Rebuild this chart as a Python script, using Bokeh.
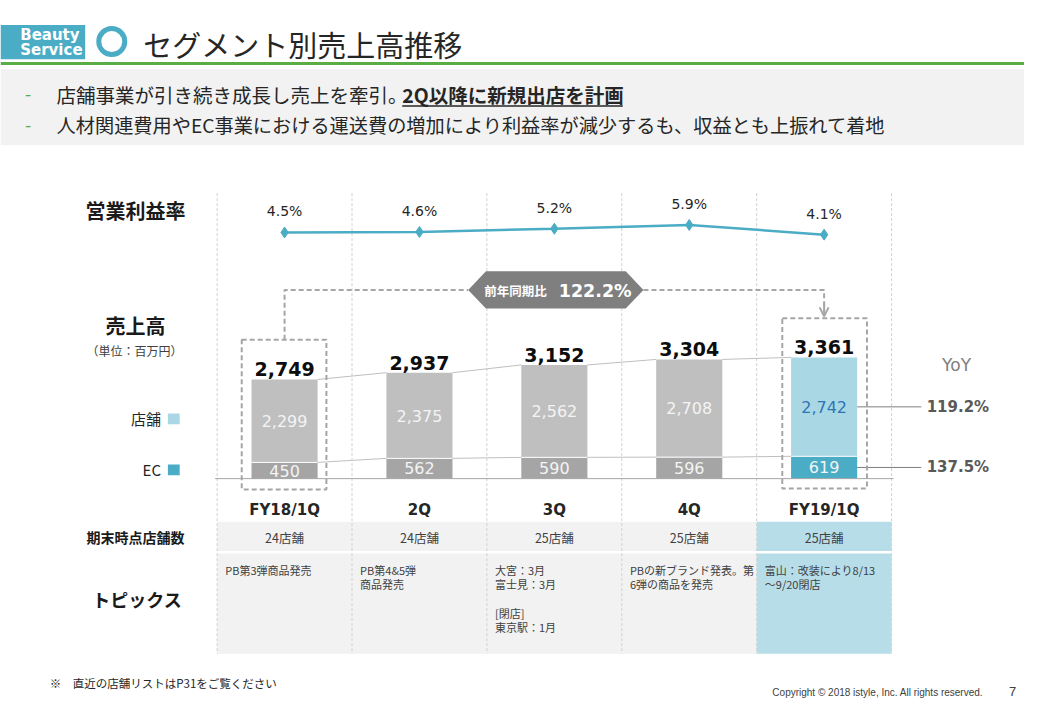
from bokeh.plotting import figure
from bokeh.models import Range1d, Arrow, OpenHead
from bokeh.core.properties import value
from bokeh.embed import file_html
from bokeh.resources import INLINE

# ---------------- data ----------------
quarters = ["FY18/1Q", "2Q", "3Q", "4Q", "FY19/1Q"]
store_sales = [2299, 2375, 2562, 2708, 2742]
ec_sales = [450, 562, 590, 596, 619]
total_sales = [2749, 2937, 3152, 3304, 3361]
op_margin = [4.5, 4.6, 5.2, 5.9, 4.1]
store_counts = ["24店舗", "24店舗", "25店舗", "25店舗", "25店舗"]
topics = [
    "PB第3弾商品発売",
    "PB第4&5弾\n商品発売",
    "大宮：3月\n富士見：3月\n\n[閉店]\n東京駅：1月",
    "PBの新ブランド発表。第\n6弾の商品を発売",
    "富山：改装により8/13\n～9/20閉店",
]
yoy_store = "119.2%"
yoy_ec = "137.5%"
yoy_total = "122.2%"

JP = value("Noto Sans CJK JP")
NUM = value("DejaVu Sans")

n = len(quarters)
idx = list(range(n))

p = figure(width=1024, height=704, x_range=Range1d(0, 1040), y_range=Range1d(720, 0),
           output_backend="svg", toolbar_location=None, min_border=0,
           x_axis_location=None, y_axis_location=None)
p.grid.visible = False
p.outline_line_color = None
p.background_fill_color = "white"
p.border_fill_color = "white"

# ---------------- header ----------------
p.quad(left=0, right=86, top=25, bottom=60, fill_color="#4bacc6", line_color=None)
p.text(x=[20, 20], y=[35, 51], text=["Beauty", "Service"], text_font=NUM, text_font_size="15px",
       text_font_style="bold", text_color="white", text_baseline="middle", text_align="left")
p.scatter(x=[113], y=[42], marker="circle", size=26, fill_color="white", line_color="#4bacc6", line_width=5)
p.text(x=[145], y=[44], text=["セグメント別売上高推移"], text_font=JP, text_font_size="29px",
       text_color="#262626", text_baseline="middle", text_align="left")
p.quad(left=0, right=1040, top=63, bottom=66, fill_color="#5aac44", line_color=None)
p.quad(left=0, right=1040, top=70, bottom=148, fill_color="#f2f2f2", line_color=None)
p.text(x=[25, 25], y=[96, 127], text=["-", "-"], text_font=JP, text_font_size="18px",
       text_color="#5aac44", text_baseline="middle", text_align="left")
p.text(x=[57], y=[96], text=["店舗事業が引き続き成長し売上を牽引。"], text_font=JP, text_font_size="19.5px",
       text_color="#262626", text_baseline="middle", text_align="left")
p.text(x=[408], y=[96], text=["2Q以降に新規出店を計画"], text_font=JP, text_font_size="19.5px",
       text_font_style="bold", text_color="#262626", text_baseline="middle", text_align="left")
p.segment(x0=[408], y0=[108], x1=[632], y1=[108], line_color="#262626", line_width=1.5)
p.text(x=[57], y=[127], text=["人材関連費用やEC事業における運送費の増加により利益率が減少するも、収益とも上振れて着地"],
       text_font=JP, text_font_size="19.2px", text_color="#262626", text_baseline="middle", text_align="left")

# ---------------- coordinate systems ----------------
cols = p.subplot(x_source=Range1d(-0.5, n - 0.5), y_source=Range1d(720, 0),
                 x_target=Range1d(220, 905), y_target=Range1d(720, 0))
bars = p.subplot(x_source=Range1d(-0.5, n - 0.5), y_source=Range1d(0, 3361),
                 x_target=Range1d(220, 905), y_target=Range1d(489, 365))
marg = p.subplot(x_source=Range1d(-0.5, n - 0.5), y_source=Range1d(0, 10),
                 x_target=Range1d(220, 905), y_target=Range1d(262, 207))

# ---------------- table backgrounds ----------------
bg = ["#f2f2f2"] * (n - 1) + ["#b7dde8"]
cols.quad(left=[i - 0.5 for i in idx], right=[i + 0.5 for i in idx], top=533, bottom=563,
          fill_color=bg, line_color=None)
cols.quad(left=[i - 0.5 for i in idx], right=[i + 0.5 for i in idx], top=565.5, bottom=668,
          fill_color=bg, line_color=None)

# vertical dashed column separators
sep = [i - 0.5 for i in range(n + 1)]
cols.segment(x0=sep, y0=197, x1=sep, y1=668, line_color="#d0d0d0", line_width=1, line_dash="3 2")

# table texts
cols.text(x=idx, y=521, text=quarters, text_font=NUM, text_font_size="15px", text_font_style="bold",
          text_color="#262626", text_align="center", text_baseline="middle")
cols.text(x=idx, y=549, text=store_counts, text_font=JP, text_font_size="12.5px",
          text_color="#404040", text_align="center", text_baseline="middle")
cols.text(x=[i - 0.44 for i in idx], y=574, text=topics, text_font=JP, text_font_size="11px",
          text_color="#404040", text_align="left", text_baseline="top", text_line_height=0.9)

# ---------------- left labels ----------------
p.text(x=[137], y=[215], text=["営業利益率"], text_font=JP, text_font_size="20px", text_font_style="bold",
       text_color="#1a1a1a", text_align="center", text_baseline="middle")
p.text(x=[137], y=[332], text=["売上高"], text_font=JP, text_font_size="20px", text_font_style="bold",
       text_color="#1a1a1a", text_align="center", text_baseline="middle")
p.text(x=[136], y=[358], text=["（単位：百万円）"], text_font=JP, text_font_size="12px",
       text_color="#404040", text_align="center", text_baseline="middle")
p.text(x=[163, 163], y=[428, 480], text=["店舗", "EC"], text_font=JP, text_font_size="15px",
       text_color="#262626", text_align="right", text_baseline="middle")
p.rect(x=[176, 176], y=[428, 480], width=12, height=11, fill_color=["#a9d8e4", "#4bacc6"], line_color=None)
p.text(x=[137], y=[549], text=["期末時点店舗数"], text_font=JP, text_font_size="14px", text_font_style="bold",
       text_color="#1a1a1a", text_align="center", text_baseline="middle")
p.text(x=[139], y=[612], text=["トピックス"], text_font=JP, text_font_size="18px", text_font_style="bold",
       text_color="#1a1a1a", text_align="center", text_baseline="middle")

# ---------------- operating margin line ----------------
marg.line(x=idx, y=op_margin, line_color="#4bacc6", line_width=2.5)
marg.scatter(x=idx, y=op_margin, marker="diamond", size=11, fill_color="#4bacc6", line_color="#4bacc6")
marg.text(x=idx, y=op_margin, text=[f"{v:.1f}%" for v in op_margin], y_offset=-21,
          text_font=NUM, text_font_size="14px", text_color="#262626",
          text_align="center", text_baseline="middle")

# ---------------- bars ----------------
bw = 0.49
store_col = ["#bfbfbf"] * (n - 1) + ["#a9d8e4"]
ec_col = ["#a5a5a5"] * (n - 1) + ["#4bacc6"]
bars.vbar(x=idx, bottom=0, top=ec_sales, width=bw, fill_color=ec_col, line_color=None)
bars.vbar(x=idx, bottom=ec_sales, top=total_sales, width=bw, fill_color=store_col, line_color=None)
bars.segment(x0=[i - bw / 2 for i in idx], y0=ec_sales, x1=[i + bw / 2 for i in idx], y1=ec_sales,
             line_color="white", line_width=1)

# connectors between bars
bars.segment(x0=[i + bw / 2 for i in idx[:-1]], y0=total_sales[:-1],
             x1=[i + 1 - bw / 2 for i in idx[:-1]], y1=total_sales[1:], line_color="#bfbfbf", line_width=1)
bars.segment(x0=[i + bw / 2 for i in idx[:-1]], y0=ec_sales[:-1],
             x1=[i + 1 - bw / 2 for i in idx[:-1]], y1=ec_sales[1:], line_color="#bfbfbf", line_width=1)
# baseline
bars.segment(x0=[-0.515], y0=[0], x1=[n - 0.485], y1=[0], line_color="#a6a6a6", line_width=1)

# labels
store_mid = [e + s / 2 for e, s in zip(ec_sales, store_sales)]
ec_mid = [e / 2 for e in ec_sales]
bars.text(x=idx, y=store_mid, text=[f"{v:,}" for v in store_sales], text_font=NUM, text_font_size="16px",
          text_color=["#f4f4f4"] * (n - 1) + ["#2e75b6"], text_align="center", text_baseline="middle")
bars.text(x=idx, y=ec_mid, text=[f"{v:,}" for v in ec_sales], text_font=NUM, text_font_size="16px",
          text_color="#f4f4f4", text_align="center", text_baseline="middle")
bars.text(x=idx, y=total_sales, text=[f"{v:,}" for v in total_sales], y_offset=-3, text_font=NUM,
          text_font_size="19px", text_font_style="bold", text_color="#0d0d0d",
          text_align="center", text_baseline="bottom")

# YoY
last = n - 1
bars.segment(x0=[last + bw / 2, last + bw / 2], y0=[store_mid[last], ec_mid[last]],
             x1=[last + 0.72, last + 0.72], y1=[store_mid[last], ec_mid[last]],
             line_color="#7f7f7f", line_width=1)
bars.text(x=[last + 0.76, last + 0.76], y=[store_mid[last], ec_mid[last]], text=[yoy_store, yoy_ec],
          text_font=NUM, text_font_size="15px", text_font_style="bold", text_color="#595959",
          text_align="left", text_baseline="middle")
p.text(x=[971], y=[373], text=["YoY"], text_font=NUM, text_font_size="17px", text_color="#7f7f7f",
       text_align="center", text_baseline="middle")

# ---------------- highlight boxes and comparison badge ----------------
p.quad(left=[245, 794], right=[331, 880], top=[347, 325], bottom=[500, 499], fill_color=None,
       line_color="#a6a6a6", line_width=2, line_dash="5 3")
p.line(x=[288.5, 288.5, 475], y=[347, 296, 296], line_color="#a6a6a6", line_width=2, line_dash="5 3")
p.line(x=[653, 836.5, 836.5], y=[296, 296, 318], line_color="#a6a6a6", line_width=2, line_dash="5 3")
p.add_layout(Arrow(end=OpenHead(size=9, line_color="#a6a6a6", line_width=2), x_start=836.5, y_start=310,
                   x_end=836.5, y_end=323, line_color="#a6a6a6", line_width=2))
p.patch(x=[475, 493, 635, 653, 635, 493], y=[296, 277, 277, 296, 315, 315], fill_color="#7f7f7f", line_color=None)
p.text(x=[523], y=[297], text=["前年同期比"], text_font=JP, text_font_size="12.5px", text_font_style="bold",
       text_color="white", text_align="center", text_baseline="middle")
p.text(x=[604], y=[297], text=[yoy_total], text_font=NUM, text_font_size="17.5px", text_font_style="bold",
       text_color="white", text_align="center", text_baseline="middle")

# ---------------- footer ----------------
p.text(x=[50], y=[698], text=["※　直近の店舗リストはP31をご覧ください"], text_font=JP, text_font_size="11.5px",
       text_color="#262626", text_align="left", text_baseline="middle")
p.text(x=[998], y=[708], text=["Copyright © 2018 istyle, Inc. All rights reserved."], text_font=value("Liberation Sans"),
       text_font_size="10px", text_color="#404040", text_align="right", text_baseline="middle")
p.text(x=[1028], y=[707], text=["7"], text_font=value("Liberation Sans"), text_font_size="13px",
       text_color="#404040", text_align="center", text_baseline="middle")

open("out.html", "w").write(file_html(p, INLINE))
